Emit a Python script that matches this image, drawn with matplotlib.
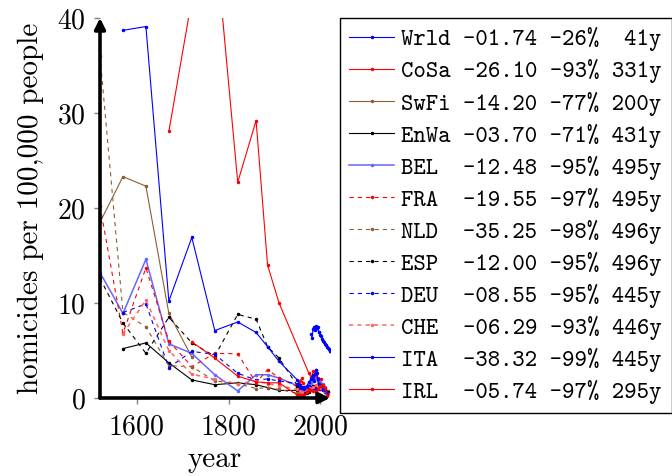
import matplotlib
matplotlib.use("Agg")
import matplotlib.pyplot as plt

# early estimates (50-year bins, then 1860/1885/1910), modern values after
bel_years = [1520, 1570, 1620, 1670, 1720, 1770, 1820, 1860, 1885, 1910,
             1950, 1955, 1960, 1965, 1970, 1975, 1980, 1985, 1990, 1995, 2000, 2005, 2010, 2015]
bel_vals = [13.2, 8.9, 14.6, 5.7, 4.7, 2.45, 0.75, 2.45, 2.45, 2.1,
            1.3, 1.1, 0.9, 1.0, 1.2, 1.4, 1.6, 1.9, 2.1, 1.8, 1.7, 1.5, 1.2, 0.66]

fra_years = [1520, 1570, 1620, 1670, 1720, 1770, 1820, 1860, 1885, 1910,
             1950, 1953, 1956, 1959, 1962, 1965, 1970, 1975, 1980, 1985, 1990, 1995, 2000, 2005, 2010, 2015]
fra_vals = [20.2, 6.8, 13.7, 6.0, 3.3, 4.7, 4.65, 1.6, 3.0, 2.1,
            1.2, 1.5, 1.8, 2.1, 1.6, 0.9, 0.8, 1.0, 1.1, 1.3, 1.2, 1.1, 0.9, 0.8, 0.7, 0.6]

nld_years = [1520, 1570, 1620, 1670, 1720, 1770, 1820, 1860, 1885, 1910,
             1950, 1955, 1960, 1965, 1970, 1975, 1980, 1985, 1990, 1995, 2000, 2005, 2010, 2016]
nld_vals = [36.0, 9.0, 7.5, 3.4, 3.3, 1.8, 1.5, 1.0, 1.1, 0.9,
            0.5, 0.4, 0.5, 0.6, 0.7, 0.9, 1.0, 1.2, 1.3, 1.5, 1.3, 1.1, 0.9, 0.75]

esp_years = [1520, 1570, 1620, 1670, 1720, 1770, 1820, 1860, 1885, 1910,
             1950, 1955, 1960, 1965, 1970, 1975, 1980, 1985, 1990, 1995, 2000, 2005, 2010, 2016]
esp_vals = [12.6, 7.9, 4.7, 8.5, 5.8, 4.4, 8.8, 8.3, 5.4, 4.2,
            1.3, 0.9, 0.6, 0.5, 0.5, 0.6, 1.0, 1.3, 1.1, 1.0, 1.1, 0.9, 0.8, 0.6]

deu_years = [1570, 1620, 1670, 1720, 1770, 1820, 1860, 1885, 1910,
             1950, 1955, 1960, 1965, 1970, 1975, 1980, 1985, 1990, 1995, 2000, 2005, 2010, 2015]
deu_vals = [9.0, 9.9, 3.2, 4.9, 4.6, 2.6, 1.9, 2.0, 1.8,
            1.5, 1.1, 1.0, 1.2, 1.3, 1.3, 1.2, 1.1, 1.0, 1.1, 0.9, 0.8, 0.6, 0.45]

che_years = [1570, 1620, 1670, 1720, 1770, 1820, 1860, 1885, 1910,
             1950, 1955, 1960, 1965, 1970, 1975, 1980, 1985, 1990, 1995, 2000, 2005, 2010, 2016]
che_vals = [6.76, 10.3, 5.0, 2.5, 2.0, 1.5, 1.8, 1.5, 1.3,
            0.9, 0.7, 0.6, 0.8, 1.0, 1.1, 1.0, 1.2, 1.4, 1.3, 1.1, 0.9, 0.7, 0.47]

ita_years = [1570, 1620, 1670, 1720, 1770, 1820, 1860, 1885, 1910,
             1950, 1955, 1960, 1965, 1970, 1975, 1980, 1983, 1986, 1988, 1990, 1991, 1992,
             1994, 1997, 2000, 2005, 2010, 2015]
ita_vals = [38.7, 39.1, 10.2, 16.9, 7.1, 8.0, 6.9, 5.4, 3.85,
            1.9, 1.4, 1.2, 1.0, 1.2, 1.7, 2.0, 2.4, 1.8, 2.5, 2.9, 3.0, 2.6,
            2.0, 1.5, 1.3, 1.0, 0.8, 0.4]

irl_years = [1720, 1770, 1820, 1860, 1885, 1910,
             1950, 1955, 1960, 1965, 1970, 1975, 1980, 1985, 1990, 1995, 2000, 2005, 2010, 2015]
irl_vals = [5.92, 4.2, 2.3, 1.7, 1.6, 1.6,
            0.3, 0.3, 0.2, 0.3, 0.6, 0.9, 0.8, 0.7, 0.6, 1.0, 1.3, 1.4, 1.1, 0.18]

enwa_years = [1570, 1620, 1670, 1720, 1770, 1820, 1860, 1885, 1910,
              1950, 1955, 1960, 1965, 1970, 1975, 1980, 1985, 1990, 1995, 2001]
enwa_vals = [5.2, 5.8, 3.7, 1.9, 1.4, 1.6, 1.4, 1.1, 0.8,
             0.8, 0.7, 0.7, 0.7, 0.9, 1.1, 1.1, 1.1, 1.2, 1.3, 1.5]

swfi_years = [1520, 1570, 1620, 1670, 1720]
swfi_vals = [18.5, 23.3, 22.3, 8.9, 4.3]

cosa_years = [1670, 1720, 1770, 1820, 1860, 1885, 1910, 1975, 1980, 1985, 1990, 1995, 2001]
cosa_vals = [28.06, 42.0, 49.0, 22.7, 29.2, 14.0, 10.0, 2.6, 2.2, 2.8, 2.4, 2.1, 1.96]

wrld_years = [1980, 1982, 1984, 1986, 1988, 1990, 1992, 1994, 1996, 1998, 2000,
              2002, 2004, 2006, 2008, 2010, 2012, 2014, 2016, 2018, 2020, 2021]
wrld_vals = [6.7, 6.3, 7.3, 7.5, 7.2, 7.6, 7.4, 7.5, 7.0, 6.9, 6.6,
             6.5, 6.2, 6.0, 5.9, 5.7, 5.6, 5.4, 5.3, 5.2, 5.0, 4.96]

labels = [
    "Wrld -01.74 -26%  41y",
    "CoSa -26.10 -93% 331y",
    "SwFi -14.20 -77% 200y",
    "EnWa -03.70 -71% 431y",
    "BEL  -12.48 -95% 495y",
    "FRA  -19.55 -97% 495y",
    "NLD  -35.25 -98% 496y",
    "ESP  -12.00 -95% 496y",
    "DEU  -08.55 -95% 445y",
    "CHE  -06.29 -93% 446y",
    "ITA  -38.32 -99% 445y",
    "IRL  -05.74 -97% 295y",
]


def main():
    plt.rcParams['font.family'] = 'cmr10'
    plt.rcParams['axes.formatter.use_mathtext'] = True
    plt.rcParams['lines.scale_dashes'] = False

    fig = plt.figure(figsize=(6.72, 4.76), dpi=100)
    ax = fig.add_axes([100 / 672, 1 - 398 / 476, 230 / 672, 380 / 476])

    brown = '#8b5e34'
    dash = (0, (3, 3))
    series = [
        (wrld_years, wrld_vals, 'blue', '-', 0.8),
        (cosa_years, cosa_vals, 'red', '-', 0.8),
        (swfi_years, swfi_vals, brown, '-', 0.8),
        (enwa_years, enwa_vals, 'black', '-', 0.8),
        (bel_years, bel_vals, '#6666ff', '-', 1.1),
        (fra_years, fra_vals, 'red', dash, 0.8),
        (nld_years, nld_vals, brown, dash, 0.8),
        (esp_years, esp_vals, 'black', dash, 0.8),
        (deu_years, deu_vals, 'blue', dash, 0.8),
        (che_years, che_vals, '#ff6666', dash, 1.1),
        (ita_years, ita_vals, 'blue', '-', 0.8),
        (irl_years, irl_vals, 'red', '-', 0.8),
    ]
    for (xs, ys, col, ls, lw), lab in zip(series, labels):
        ax.plot(xs, ys, color=col, linestyle=ls, linewidth=lw,
                marker='o', markersize=1.5, label=lab)

    ax.set_xlim(1520, 2021)
    ax.set_ylim(0, 40)
    ax.set_xticks([1600, 1800, 2000])
    ax.set_yticks([0, 10, 20, 30, 40])
    ax.tick_params(direction='out', length=4, width=1, color='gray',
                   labelsize=20, pad=6)
    ax.tick_params(axis='x', pad=8)
    for s in ax.spines.values():
        s.set_visible(False)
    ax.patch.set_visible(False)

    arrow = dict(arrowstyle='-|>', lw=2.6, color='black', shrinkA=0, shrinkB=0,
                 mutation_scale=16)
    ax.annotate('', xy=(0, 1), xytext=(0, 0), xycoords='axes fraction', arrowprops=arrow)
    ax.annotate('', xy=(1, 0), xytext=(0, 0), xycoords='axes fraction', arrowprops=arrow)

    ax.set_xlabel('year', fontsize=21, labelpad=4)
    ax.set_ylabel('homicides per 100,000 people', fontsize=21, labelpad=10)

    leg = ax.legend(loc='upper left', bbox_to_anchor=(340 / 672, 1 - 18 / 476),
                    bbox_transform=fig.transFigure, prop={'family': 'cmtt10', 'size': 17},
                    frameon=True, fancybox=False, edgecolor='black', framealpha=1,
                    handlelength=1.9, handletextpad=0.3, labelspacing=0.34,
                    borderaxespad=0, borderpad=0.4)
    leg.get_frame().set_linewidth(1)

    fig.savefig('out.png', dpi=100)


if __name__ == "__main__":
    main()
